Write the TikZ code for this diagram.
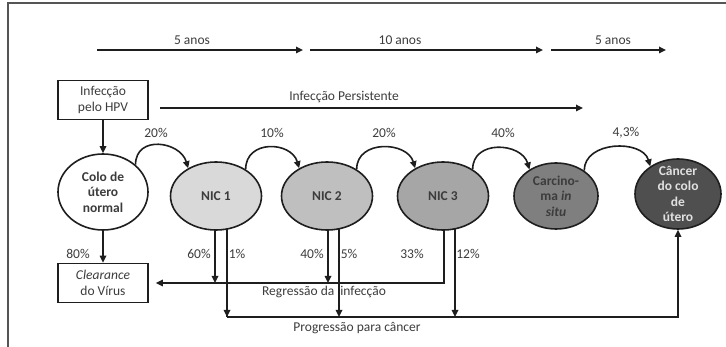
\documentclass[tikz,border=0pt]{standalone}
\usepackage{fontspec}
\setmainfont{Carlito}
\usetikzlibrary{arrows.meta,shapes.geometric,calc}
\definecolor{txt}{HTML}{3C3C3C}
\definecolor{linec}{HTML}{1E1E1E}
\definecolor{framec}{HTML}{555555}
\definecolor{nicA}{HTML}{D9D9D9}
\definecolor{nicB}{HTML}{BFBFBF}
\definecolor{nicC}{HTML}{A6A6A6}
\definecolor{carcc}{HTML}{7F7F7F}
\definecolor{cancc}{HTML}{4F4F4F}
\pgfdeclarelayer{bg}
\pgfsetlayers{bg,main}
\begin{document}
\begin{tikzpicture}[x=1pt,y=-1pt,
  every node/.style={font=\fontsize{13.5}{15.5}\selectfont, text=txt},
  lw/.style={line width=1.6pt, draw=linec},
  arr/.style={lw, -{Triangle[length=7pt,width=6.5pt]}},
  stage/.style={ellipse, draw=linec, line width=1.6pt, inner sep=-8pt,
    minimum width=91pt, minimum height=68pt, align=center,
    font=\bfseries\fontsize{13.5}{15.5}\selectfont},
  boxn/.style={draw=linec, line width=1.6pt, minimum width=90pt,
    minimum height=39pt, align=center, inner sep=0pt},
  lab/.style={inner sep=1pt},
]
\useasboundingbox (0,0) rectangle (726,347);
% frame
\draw[framec, line width=1.5pt] (8,347) -- (8,3) -- (726,3);

% top time arrows
\coordinate (t1a) at (97,50);  \coordinate (t1b) at (303,50);
\coordinate (t2a) at (310,50); \coordinate (t2b) at (543,50);
\coordinate (t3a) at (551,50); \coordinate (t3b) at (666,50);
\draw[arr] (t1a) -- (t1b);
\draw[arr] (t2a) -- (t2b);
\draw[arr] (t3a) -- (t3b);
\node[lab] (y1) at (192,40) {5 anos};
\node[lab] (y2) at (400,40) {10 anos};
\node[lab] (y3) at (613,40) {5 anos};

% boxes
\node[boxn] (hpv) at (103,100) {Infecção\\pelo HPV};
\node[boxn] (clear) at (103,283) {\textit{Clearance}\\do Vírus};

% persistent infection
\coordinate (pa) at (160,108); \coordinate (pb) at (583,108);
\draw[arr] (pa) -- (pb);
\node[lab] (pers) at (344,97) {Infecção Persistente};

% stages
\node[stage, fill=white, minimum width=90pt, minimum height=76pt] (colo) at (103,192) {Colo de\\útero\\normal};
\node[stage, fill=nicA] (nic1) at (216,196) {NIC 1};
\node[stage, fill=nicB] (nic2) at (327,196) {NIC 2};
\node[stage, fill=nicC] (nic3) at (443,196) {NIC 3};
\node[stage, fill=carcc, minimum width=84pt, minimum height=66pt] (carc) at (556,196) {Carcino-\\ma \textit{in}\\\textit{situ}};
\node[stage, fill=cancc, minimum width=86pt, minimum height=70pt, text=white!88!black] (canc) at (678,194) {Câncer\\do colo\\de\\útero};

% vertical arrows
\draw[arr] (hpv) -- (colo);
\draw[arr] (colo) -- (clear);

% progression curves
\draw[arr] (colo.40) .. controls +(0,-30) and +(-8,-27) .. (nic1.135);
\draw[arr] (nic1.42) .. controls +(0,-30) and +(-8,-27) .. (nic2.135);
\draw[arr] (nic2.42) .. controls +(0,-30) and +(-8,-27) .. (nic3.135);
\draw[arr] (nic3.42) .. controls +(0,-30) and +(-8,-27) .. (carc.135);
\draw[arr] (carc.42) .. controls +(0,-30) and +(-8,-27) .. (canc.135);

\node[lab] (p1) at (156,133) {20\%};
\node[lab] (p2) at (272,133) {10\%};
\node[lab] (p3) at (384,133) {20\%};
\node[lab] (p4) at (503,133) {40\%};
\node[lab] (p5) at (626,133) {4,3\%};

% regression / progression lines (behind ellipses)
\coordinate (prog) at (227,317);
\begin{pgfonlayer}{bg}
\draw[arr, shorten >=7pt] ([xshift=1pt]nic3.center) |- (clear.east);
\draw[arr] ([xshift=-1pt]nic1.center) -- ([xshift=-1pt]nic1.center |- clear.east);
\draw[arr] ([xshift=1pt]nic2.center) -- ([xshift=1pt]nic2.center |- clear.east);
\draw[lw] (prog) -| ([xshift=11pt]nic1.center);
\draw[arr] (prog) -| (canc.south);
\draw[arr] ([xshift=11pt]nic1.center) -- (prog);
\draw[arr] ([xshift=12pt]nic2.center) -- ([xshift=12pt]nic2.center |- prog);
\draw[arr] ([xshift=12pt]nic3.center) -- ([xshift=12pt]nic3.center |- prog);
\end{pgfonlayer}

\node[lab] (q0) at (78,254) {80\%};
\node[lab] (q1) at (199,254) {60\%};
\node[lab] (q2) at (237,254) {1\%};
\node[lab] (q3) at (312,254) {40\%};
\node[lab] (q4) at (349,254) {5\%};
\node[lab] (q5) at (412,254) {33\%};
\node[lab] (q6) at (468,254) {12\%};

\node[lab] (reg) at (324,292) {Regressão da \hspace{3pt}infecção};
\node[lab] (prg) at (357,328) {Progressão para câncer};
\end{tikzpicture}
\end{document}
